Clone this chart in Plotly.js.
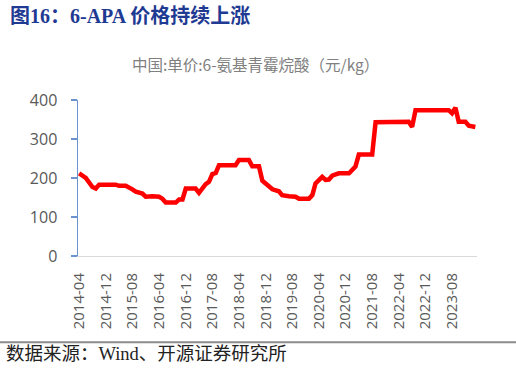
<!DOCTYPE html>
<html>
<head>
<meta charset="utf-8">
<script src="https://cdn.plot.ly/plotly-3.0.1.min.js"></script>
<style>html,body{margin:0;padding:0;background:#fff;}#chart{width:516px;height:377px;}</style>
</head>
<body>
<div id="chart"></div>
<script>
const dates = ["2014-04","2014-06","2014-08","2014-09","2014-10","2015-03","2015-04","2015-06","2015-08","2015-09","2015-11","2015-12","2016-02","2016-04","2016-05","2016-06","2016-09","2016-10","2016-11","2016-12","2017-03","2017-04","2017-06","2017-07","2017-08","2017-09","2017-10","2018-03","2018-04","2018-07","2018-08","2018-10","2018-11","2019-01","2019-02","2019-04","2019-05","2019-07","2019-09","2019-10","2020-01","2020-02","2020-03","2020-05","2020-06","2020-07","2020-08","2020-09","2020-10","2021-01","2021-02","2021-03","2021-04","2021-08","2021-09","2022-07","2022-08","2022-09","2023-07","2023-08","2023-09","2023-10","2023-12","2024-01","2024-03"];
const prices = [212,200,177,173,183,183,180,180,171,165,160,152,153,152,147,137,137,145,145,173,173,162,184,190,210,213,233,233,246,246,230,230,193,177,171,166,156,153,152,147,147,156,186,203,195,196,206,209,212,212,223,229,260,260,343,344,331,374,374,366,380,344,344,334,331];
const yTicks = [0,100,200,300,400];

const header = "图16：6-APA 价格持续上涨";
const chartTitle = "中国:单价:6-氨基青霉烷酸（元/kg）";
const source = "数据来源：Wind、开源证券研究所";

const trace = {
  x: dates.map(d => d + "-01"),
  y: prices,
  type: "scatter",
  mode: "lines",
  line: {color: "#ff0000", width: 4.5},
  hoverinfo: "skip"
};

const layout = {
  width: 516, height: 377,
  margin: {l: 78, r: 39, t: 100, b: 121},
  paper_bgcolor: "#ffffff",
  plot_bgcolor: "#ffffff",
  showlegend: false,
  font: {family: "Open Sans, Liberation Sans, sans-serif", color: "#595959"},
  xaxis: {
    type: "date",
    range: ["2014-03-22", "2024-03-16"],
    tick0: "2014-04-01",
    dtick: "M8",
    tickformat: "%Y-%m",
    tickangle: -90,
    ticks: "",
    showgrid: false,
    zeroline: false,
    showline: true,
    linecolor: "#d9d9d9",
    linewidth: 1,
    ticklabelstandoff: 10,
    tickfont: {size: 15, color: "#595959", family: "Open Sans, sans-serif"}
  },
  yaxis: {
    range: [0, 400],
    tickvals: yTicks,
    ticktext: yTicks.map(String),
    ticks: "outside",
    ticklen: 6,
    tickcolor: "#6b93cf",
    tickwidth: 1.5,
    showline: true,
    linecolor: "#6b93cf",
    linewidth: 1.5,
    showgrid: false,
    zeroline: false,
    ticklabelstandoff: 10,
    tickfont: {size: 16, color: "#595959", family: "Open Sans, sans-serif"}
  },
  shapes: [
    {type: "line", xref: "paper", yref: "paper", x0: -0.2, x1: 1.1, y0: -0.553, y1: -0.553,
     line: {color: "#8c8c8c", width: 2}}
  ],
  annotations: [
    {text: "<b>" + header + "</b>", xref: "paper", yref: "paper", x: -0.175, y: 1.54,
     xanchor: "left", yanchor: "middle", showarrow: false,
     font: {size: 20, color: "#1f3a93", family: "Liberation Serif, Noto Sans CJK SC, serif"}},
    {text: chartTitle, xref: "paper", yref: "paper", x: 0.445, y: 1.23,
     xanchor: "center", yanchor: "middle", showarrow: false,
     font: {size: 15.5, color: "#808080", family: "Noto Sans CJK SC, sans-serif"}},
    {text: source, xref: "paper", yref: "paper", x: -0.185, y: -0.627,
     xanchor: "left", yanchor: "middle", showarrow: false,
     font: {size: 18.5, color: "#222222", family: "Liberation Serif, Noto Sans CJK SC, serif"}}
  ]
};

Plotly.newPlot("chart", [trace], layout, {displayModeBar: false, staticPlot: true});
</script>
</body>
</html>
